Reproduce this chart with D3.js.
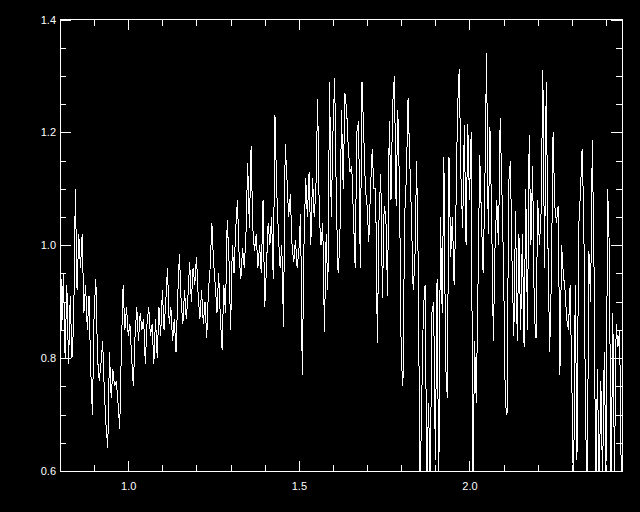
<!DOCTYPE html>
<html>
<head>
<meta charset="utf-8">
<script src="https://cdn.jsdelivr.net/npm/d3@7"></script>
<style>
	html, body { margin: 0; padding: 0; background: #000; }
	svg { display: block; }
	.axis text { fill: #fff; font-family: "Liberation Sans", sans-serif; font-size: 11px; }
	.axis line { stroke: #fff; }
</style>
</head>
<body>
<div id="chart"></div>
<script>
// wavelength grid of the spectrum
var wlStart = 0.80,
	wlStep = 0.005;

// flux values
var flux = [
	1.07, 0.85, 0.95, 0.80, 0.93, 0.79, 0.91, 0.80, 0.86, 1.10,
	0.92, 1.02, 0.96, 1.02, 0.88, 0.93, 0.85, 0.91, 0.78, 0.70,
	0.88, 0.94, 0.80, 0.76, 0.79, 0.83, 0.74, 0.68, 0.64, 0.81,
	0.73, 0.78, 0.75, 0.76, 0.72, 0.675, 0.82, 0.93, 0.85, 0.89,
	0.84, 0.86, 0.80, 0.75, 0.84, 0.89, 0.83, 0.88, 0.85, 0.87,
	0.79, 0.86, 0.89, 0.84, 0.86, 0.79,
	0.87, 0.80, 0.89, 0.84, 0.92, 0.85, 0.90, 0.96, 0.86, 0.89,
	0.83, 0.87, 0.81, 0.91, 0.985, 0.90, 0.86, 0.92, 0.87, 0.91,
	0.97, 0.90, 0.96, 0.93, 0.98, 0.91, 0.87, 0.92, 0.86, 0.90,
	0.835, 0.92, 0.96, 1.04, 0.97, 0.93, 0.88, 0.95, 0.87, 0.815,
	0.93, 0.88, 1.045, 0.98, 0.85, 1.00, 0.95, 1.03, 1.08, 0.98,
	0.94, 0.995, 0.96, 1.02, 1.145, 1.03,
	1.175, 1.03, 0.99, 1.02, 0.96, 1.00, 0.95, 1.08, 0.89, 0.96,
	1.04, 1.00, 1.05, 0.94, 1.23, 1.10, 1.02, 0.96, 1.00, 0.855,
	1.18, 1.12, 1.05, 1.09, 1.00, 0.97, 1.01, 0.96, 0.99, 1.055,
	0.77, 1.00, 1.12, 1.05, 1.13, 1.00, 1.12, 1.05, 1.10, 1.26,
	1.05, 1.00, 1.04, 0.846, 1.02, 0.92, 1.29, 1.05, 1.20, 1.296,
	1.07, 0.95, 1.00, 1.24, 1.10, 1.27,
	1.24, 1.17, 1.13, 1.14, 1.05, 0.96, 1.20, 1.22, 0.96, 1.29,
	1.20, 1.10, 1.07, 1.006, 1.10, 1.17, 1.10, 1.10, 0.826, 1.05,
	1.127, 0.906, 1.07, 1.05, 0.91, 1.22, 1.08, 1.25, 1.30, 1.07,
	1.24, 1.10, 0.80, 0.75, 1.05, 1.12, 1.26, 1.15, 1.05, 0.92,
	0.97, 1.15, 0.96, 0.55, 0.72, 0.888, 0.93, 0.58, 0.72, 0.57,
	0.88, 0.90, 0.62, 0.94, 0.56,
	1.05, 0.88, 1.157, 0.79, 0.73, 1.157, 0.98, 1.05, 0.93, 1.05,
	1.24, 1.313, 1.12, 1.03, 1.213, 1.00, 1.215, 1.08, 1.20, 0.55,
	0.83, 0.72, 0.93, 1.16, 1.05, 0.95, 1.10, 1.34, 1.02, 1.21,
	1.05, 0.83, 1.00, 1.08, 1.00, 1.225, 1.10, 0.96, 0.72, 0.70,
	1.11, 1.15, 0.96, 0.84, 1.06, 0.83, 1.02, 0.85, 1.02, 0.82,
	1.10, 0.85, 1.195,
	1.00, 1.14, 0.88, 0.835, 1.08, 1.00, 1.06, 1.31, 0.96, 1.29,
	1.00, 0.81, 0.94, 1.20, 1.07, 1.04, 1.07, 0.77, 1.00, 0.95,
	0.92, 0.87, 0.85, 0.93, 0.76, 0.55, 0.93, 0.62, 1.03, 1.09,
	1.17, 1.05, 0.70, 0.55, 0.99, 0.90, 1.186, 0.96, 0.56, 0.78,
	0.57, 0.76, 0.58, 0.81, 0.60, 1.10, 0.99, 0.55, 0.88, 0.60,
	0.86, 0.82, 0.85, 0.58
];

var xRange = [0.80, 2.447],
	yRange = [0.6, 1.4];
var xMajor = [1.0, 1.5, 2.0],
	yMajor = [0.6, 0.8, 1.0, 1.2, 1.4];

(function() {
	var width = 640,
		height = 512,
		left = 60,
		right = 622,
		top = 19.5,
		bottom = 471;

	var data = flux.map(function(f, i) {
		return { wl: wlStart + i * wlStep, flux: f };
	});

	var x = d3.scaleLinear().domain(xRange).range([left, right]);
	var y = d3.scaleLinear().domain(yRange).range([bottom, top]);

	var xMinor = d3.range(0.9, 2.45, 0.1).filter(function(v) {
		return xMajor.every(function(m) { return Math.abs(m - v) > 1e-6; });
	});
	var yMinor = d3.range(0.65, 1.4, 0.05).filter(function(v) {
		return yMajor.every(function(m) { return Math.abs(m - v) > 1e-6; });
	});

	var svg = d3.select("#chart").append("svg")
		.attr("width", width)
		.attr("height", height)
		.style("background", "#000");

	svg.append("clipPath").attr("id", "clip")
		.append("rect")
		.attr("x", left).attr("y", top)
		.attr("width", right - left).attr("height", bottom - top);

	// aliased line, like the original device plot
	svg.append("path")
		.datum(data)
		.attr("clip-path", "url(#clip)")
		.attr("fill", "none")
		.attr("stroke", "#fff")
		.attr("stroke-width", 1)
		.attr("shape-rendering", "crispEdges")
		.attr("d", d3.line().x(d => x(d.wl)).y(d => y(d.flux)));

	var fmt = d3.format(".1f");

	function addAxis(axis, tx, ty, labels) {
		var g = svg.append("g")
			.attr("class", "axis")
			.attr("transform", "translate(" + tx + "," + ty + ")")
			.attr("shape-rendering", "crispEdges")
			.call(axis);
		g.select(".domain").remove();
		if (!labels) g.selectAll("text").remove();
		return g;
	}

	// major ticks (inward on all sides)
	addAxis(d3.axisBottom(x).tickValues(xMajor).tickSize(-10).tickPadding(11).tickFormat(fmt), 0, bottom, true);
	addAxis(d3.axisTop(x).tickValues(xMajor).tickSize(-10), 0, top, false);
	addAxis(d3.axisLeft(y).tickValues(yMajor).tickSize(-11).tickPadding(4).tickFormat(fmt), left, 0, true);
	addAxis(d3.axisRight(y).tickValues(yMajor).tickSize(-11), right, 0, false);

	// minor ticks
	addAxis(d3.axisBottom(x).tickValues(xMinor).tickSize(-6), 0, bottom, false);
	addAxis(d3.axisTop(x).tickValues(xMinor).tickSize(-6), 0, top, false);
	addAxis(d3.axisLeft(y).tickValues(yMinor).tickSize(-6), left, 0, false);
	addAxis(d3.axisRight(y).tickValues(yMinor).tickSize(-6), right, 0, false);

	// plot frame
	svg.append("rect")
		.attr("x", left).attr("y", top)
		.attr("width", right - left).attr("height", bottom - top)
		.attr("fill", "none")
		.attr("stroke", "#fff")
		.attr("shape-rendering", "crispEdges");
})();
</script>
</body>
</html>
